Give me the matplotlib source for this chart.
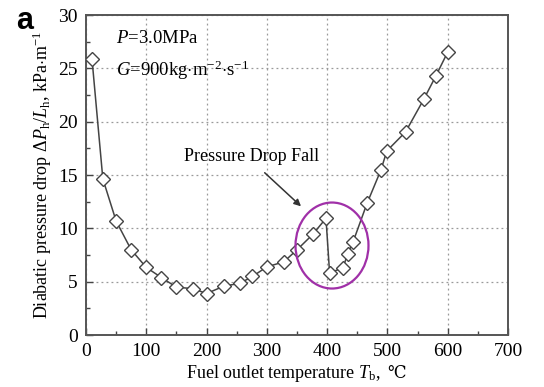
import matplotlib
matplotlib.use("Agg")
import matplotlib.pyplot as plt
from matplotlib.patches import Ellipse
from matplotlib.ticker import MultipleLocator

plt.rcParams['font.family'] = ['Liberation Serif', 'DejaVu Serif']
plt.rcParams['mathtext.fontset'] = 'custom'
plt.rcParams['mathtext.rm'] = 'Liberation Serif'
plt.rcParams['mathtext.it'] = 'Liberation Serif:italic'

# fuel outlet temperature (C) and diabatic pressure drop (kPa/m)
temp = [10, 28, 50, 75, 100, 125, 150, 178, 200, 229, 255, 276, 300, 328,
        350, 376, 398, 404, 426, 434, 443, 466, 489, 499, 530, 560, 580, 600]
dp = [25.9, 14.65, 10.7, 8.0, 6.35, 5.4, 4.5, 4.35, 3.9, 4.6, 4.85, 5.5, 6.4, 6.87,
      8.0, 9.44, 10.95, 5.84, 6.3, 7.6, 8.75, 12.34, 15.46, 17.27, 19.05, 22.09, 24.27, 26.55]

fig = plt.figure(figsize=(5.44, 3.87), dpi=100)
ax = fig.add_axes([0.158, 0.134, 0.776, 0.827])

ax.plot(temp, dp, '-', color='#444444', lw=1.1, marker='D', ms=7,
        mfc='white', mec='#444444', mew=1.0, zorder=3)

ax.set_xlim(0, 700)
ax.set_ylim(0, 30)
ax.xaxis.set_major_locator(MultipleLocator(100))
ax.xaxis.set_minor_locator(MultipleLocator(50))
ax.yaxis.set_major_locator(MultipleLocator(5))
ax.yaxis.set_minor_locator(MultipleLocator(2.5))
ax.tick_params(which='both', direction='in', color='#444444')
ax.tick_params(which='major', length=5, width=1, labelsize=14, pad=6)
ax.tick_params(which='minor', length=3, width=1)
ax.grid(True, which='major', ls=(0, (1.5, 2.5)), color='#999999', lw=0.9)
for sp in ax.spines.values():
    sp.set_color('#555555')
    sp.set_linewidth(1.4)

ax.set_ylabel(r'Diabatic pressure drop $\mathit{\Delta P}_{\rm h}/L_{\rm h}$, kPa$\cdot$m$^{-1}$',
              fontsize=13, labelpad=3)

# x label: math part + degree-celsius sign drawn in a font that has it
renderer = fig.canvas.get_renderer()
xl1 = fig.text(0, 0.024, r'Fuel outlet temperature $T_{\rm b}$,', fontsize=13,
               va='baseline', ha='left')
xl2 = fig.text(0, 0.024, '℃', fontsize=12, family='DejaVu Serif',
               va='baseline', ha='left')
W = fig.bbox.width
w1 = xl1.get_window_extent(renderer).width / W
w2 = xl2.get_window_extent(renderer).width / W
gap = 0.011
x0 = 0.544 - (w1 + gap + w2) / 2
xl1.set_x(x0)
xl2.set_x(x0 + w1 + gap)

ax.text(50, 27.8, r'$P$=3.0MPa', fontsize=13.5, va='center')
ax.text(50, 24.8, r'$G$=900kg$\cdot$m$^{-2}$$\cdot$s$^{-1}$', fontsize=13.5, va='center')

ell = Ellipse((408, 8.4), 121, 8.06, fill=False, ec='#a030a8', lw=1.6, zorder=4)
ax.add_patch(ell)
ax.annotate('', xy=(360, 11.9), xytext=(293, 15.4),
            arrowprops=dict(arrowstyle='-|>', color='#333333', lw=1.1,
                            mutation_scale=10))
ax.text(275, 16.7, 'Pressure Drop Fall', fontsize=13, ha='center', va='center')

fig.text(0.03, 0.985, 'a', fontsize=22, fontweight='bold',
         family='Liberation Sans', va='top')

fig.savefig('out.png', dpi=100)
